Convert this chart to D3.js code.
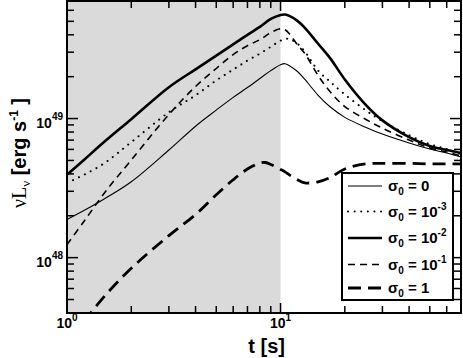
<!DOCTYPE html>
<html lang="en">
<head>
<meta charset="UTF-8">
<title>Light curves</title>
<script src="https://cdn.jsdelivr.net/npm/d3@7"></script>
<style>
  body { margin: 0; background: #fff; }
  text { font-family: "Liberation Sans", Arial, sans-serif; font-weight: bold; fill: #000; }
</style>
</head>
<body>
<svg id="chart"></svg>
<script>
// time grid [s] and nuL_nu [erg/s]
var tGrid = [1, 1.2, 1.5, 2, 3, 4, 5, 6, 7, 8, 9, 10, 10.5, 11, 12, 13, 15, 17, 20, 25, 30, 40, 50, 60, 70];
var lumSigma0 = [1.88e48, 2.18e48, 2.65e48, 3.51e48, 5.94e48, 8.81e48, 1.15e49, 1.42e49, 1.67e49, 1.94e49, 2.21e49, 2.44e49, 2.48e49, 2.40e49, 2.18e49, 1.91e49, 1.47e49, 1.22e49, 1.02e49, 8.67e48, 7.73e48, 6.67e48, 6.04e48, 5.65e48, 5.29e48];
var lumSigma1em3 = [3.45e48, 3.94e48, 4.79e48, 6.77e48, 1.11e49, 1.47e49, 1.88e49, 2.25e49, 2.61e49, 2.93e49, 3.28e49, 3.63e49, 3.72e49, 3.75e49, 3.45e49, 3.03e49, 2.21e49, 1.85e49, 1.49e49, 1.15e49, 9.57e48, 7.6e48, 6.55e48, 6.04e48, 5.56e48];
var lumSigma1em2 = [3.94e48, 5.04e48, 6.83e48, 9.9e48, 1.68e49, 2.26e49, 2.83e49, 3.41e49, 4.0e49, 4.56e49, 5.2e49, 5.56e49, 5.6e49, 5.47e49, 5.04e49, 4.49e49, 3.45e49, 2.74e49, 1.91e49, 1.26e49, 9.7e48, 7.35e48, 6.34e48, 5.94e48, 5.65e48];
var lumSigma1em1 = [1.24e48, 1.82e48, 2.93e48, 5.04e48, 1.07e49, 1.70e49, 2.29e49, 2.88e49, 3.34e49, 3.69e49, 4.14e49, 4.42e49, 4.35e49, 4.07e49, 3.39e49, 2.93e49, 2.04e49, 1.57e49, 1.22e49, 9.89e48, 8.53e48, 7.0e48, 6.14e48, 5.74e48, 5.38e48];
var tLong = [1.2, 1.5, 2, 3, 4, 5, 6, 7, 8, 8.5, 9, 10, 10.5, 11, 12, 13, 15, 17, 20, 25, 30, 40, 50, 60, 70];
var lumSigma1 = [3.45e47, 5.29e47, 8.39e47, 1.44e48, 2.04e48, 2.83e48, 3.63e48, 4.34e48, 4.79e48, 4.83e48, 4.68e48, 4.31e48, 4.14e48, 3.94e48, 3.63e48, 3.45e48, 3.51e48, 3.75e48, 4.34e48, 4.72e48, 4.76e48, 4.76e48, 4.72e48, 4.72e48, 4.72e48];

var legendBase = ["0", "10", "10", "10", "1"];
var legendExp = ["", "-3", "-2", "-1", ""];
var shadeEnd = 10;

var width = 463, height = 358;
var m = { left: 67, right: 461, top: 1, bottom: 313 };

var svg = d3.select("#chart").attr("width", width).attr("height", height);
svg.append("rect").attr("width", width).attr("height", height).attr("fill", "#fff");

var x = d3.scaleLog().domain([1, 70]).range([m.left, m.right]);
var y = d3.scaleLog().domain([4e47, 7e49]).range([m.bottom, m.top]);

svg.append("clipPath").attr("id", "plotclip")
  .append("rect").attr("x", m.left).attr("y", m.top)
  .attr("width", m.right - m.left).attr("height", m.bottom - m.top);

// shaded interval up to 10 s
svg.append("rect")
  .attr("x", x(1)).attr("y", m.top)
  .attr("width", x(shadeEnd) - x(1)).attr("height", m.bottom - m.top)
  .attr("fill", "#dadada");

var series = [
  { t: tGrid, v: lumSigma0, w: 1.1, dash: null },
  { t: tGrid, v: lumSigma1em3, w: 2, dash: "0.1,6.5" },
  { t: tGrid, v: lumSigma1em2, w: 2.6, dash: null },
  { t: tGrid, v: lumSigma1em1, w: 1.6, dash: "7,5" },
  { t: tLong, v: lumSigma1, w: 2.8, dash: "13,7" }
];

var line = d3.line()
  .x(function (d) { return x(d[0]); })
  .y(function (d) { return y(d[1]); })
  .curve(d3.curveCatmullRom.alpha(0.5));

var curves = svg.append("g").attr("clip-path", "url(#plotclip)");
series.forEach(function (s, i) {
  curves.append("path")
    .datum(d3.zip(s.t, s.v))
    .attr("d", line)
    .attr("fill", "none")
    .attr("stroke", "#000")
    .attr("stroke-width", s.w)
    .attr("stroke-linecap", i === 1 ? "round" : "butt")
    .attr("stroke-dasharray", s.dash);
});

// ticks on all four sides, pointing inward
var isMajor = function (v) { return Math.abs(Math.log10(v) - Math.round(Math.log10(v))) < 1e-6; };
var ticks = svg.append("g").attr("stroke", "#000").attr("stroke-width", 1.5);
x.ticks().filter(function (t) { return t > 1 && t < 70; }).forEach(function (t) {
  var len = isMajor(t) ? 10 : 7;
  ticks.append("line").attr("x1", x(t)).attr("x2", x(t)).attr("y1", m.bottom).attr("y2", m.bottom - len);
  ticks.append("line").attr("x1", x(t)).attr("x2", x(t)).attr("y1", m.top).attr("y2", m.top + len);
});
y.ticks().filter(function (v) { return v > 4e47 && v < 7e49; }).forEach(function (v) {
  var len = isMajor(v) ? 11 : 7;
  ticks.append("line").attr("x1", m.left).attr("x2", m.left + len).attr("y1", y(v)).attr("y2", y(v));
  ticks.append("line").attr("x1", m.right).attr("x2", m.right - len).attr("y1", y(v)).attr("y2", y(v));
});

svg.append("rect")
  .attr("x", m.left).attr("y", m.top)
  .attr("width", m.right - m.left).attr("height", m.bottom - m.top)
  .attr("fill", "none").attr("stroke", "#000").attr("stroke-width", 2);

// tick labels
[1, 10].forEach(function (t) {
  var lab = svg.append("text").attr("x", x(t)).attr("y", 328)
    .attr("text-anchor", "middle").attr("font-size", 14);
  lab.append("tspan").text("10");
  lab.append("tspan").attr("dy", -7).attr("font-size", 10).text(Math.round(Math.log10(t)));
});
[1e48, 1e49].forEach(function (v) {
  var lab = svg.append("text").attr("x", 63).attr("y", y(v) + 9)
    .attr("text-anchor", "end").attr("font-size", 14);
  lab.append("tspan").text("10");
  lab.append("tspan").attr("dy", -8).attr("font-size", 10).text(Math.round(Math.log10(v)));
});

// axis titles
svg.append("text").attr("x", 285).attr("y", 353)
  .attr("text-anchor", "end").attr("font-size", 20).text("t [s]");

var yt = svg.append("text")
  .attr("transform", "translate(26,153) rotate(-90)")
  .attr("text-anchor", "middle").attr("font-size", 20);
yt.append("tspan").attr("font-family", "Liberation Serif, serif").attr("font-weight", "normal").text("νL");
yt.append("tspan").attr("font-family", "Liberation Serif, serif").attr("font-weight", "normal")
  .attr("font-size", 13).attr("dy", 4).text("ν");
yt.append("tspan").attr("dy", -4).text(" [erg s");
yt.append("tspan").attr("font-size", 12).attr("dy", -8).text("-1");
yt.append("tspan").attr("dy", 8).text(" ]");

// legend
var lg = svg.append("g");
lg.append("rect").attr("x", 342).attr("y", 173).attr("width", 111).attr("height", 127)
  .attr("fill", "#fff").attr("stroke", "#000").attr("stroke-width", 2);
var rowY = [186, 211.5, 238, 264.5, 288];
series.forEach(function (s, i) {
  lg.append("line").attr("x1", 348).attr("x2", 382).attr("y1", rowY[i]).attr("y2", rowY[i])
    .attr("stroke", "#000").attr("stroke-width", s.w)
    .attr("stroke-linecap", i === 1 ? "round" : "butt")
    .attr("stroke-dasharray", s.dash);
  var txt = lg.append("text").attr("x", 388).attr("y", rowY[i] + 5).attr("font-size", 15);
  txt.append("tspan").text("σ");
  txt.append("tspan").attr("font-size", 10).attr("dy", 4).text("0");
  txt.append("tspan").attr("dy", -4).text(" = " + legendBase[i]);
  if (legendExp[i]) {
    txt.append("tspan").attr("font-size", 10).attr("dy", -7).text(legendExp[i]);
  }
});
</script>
</body>
</html>
